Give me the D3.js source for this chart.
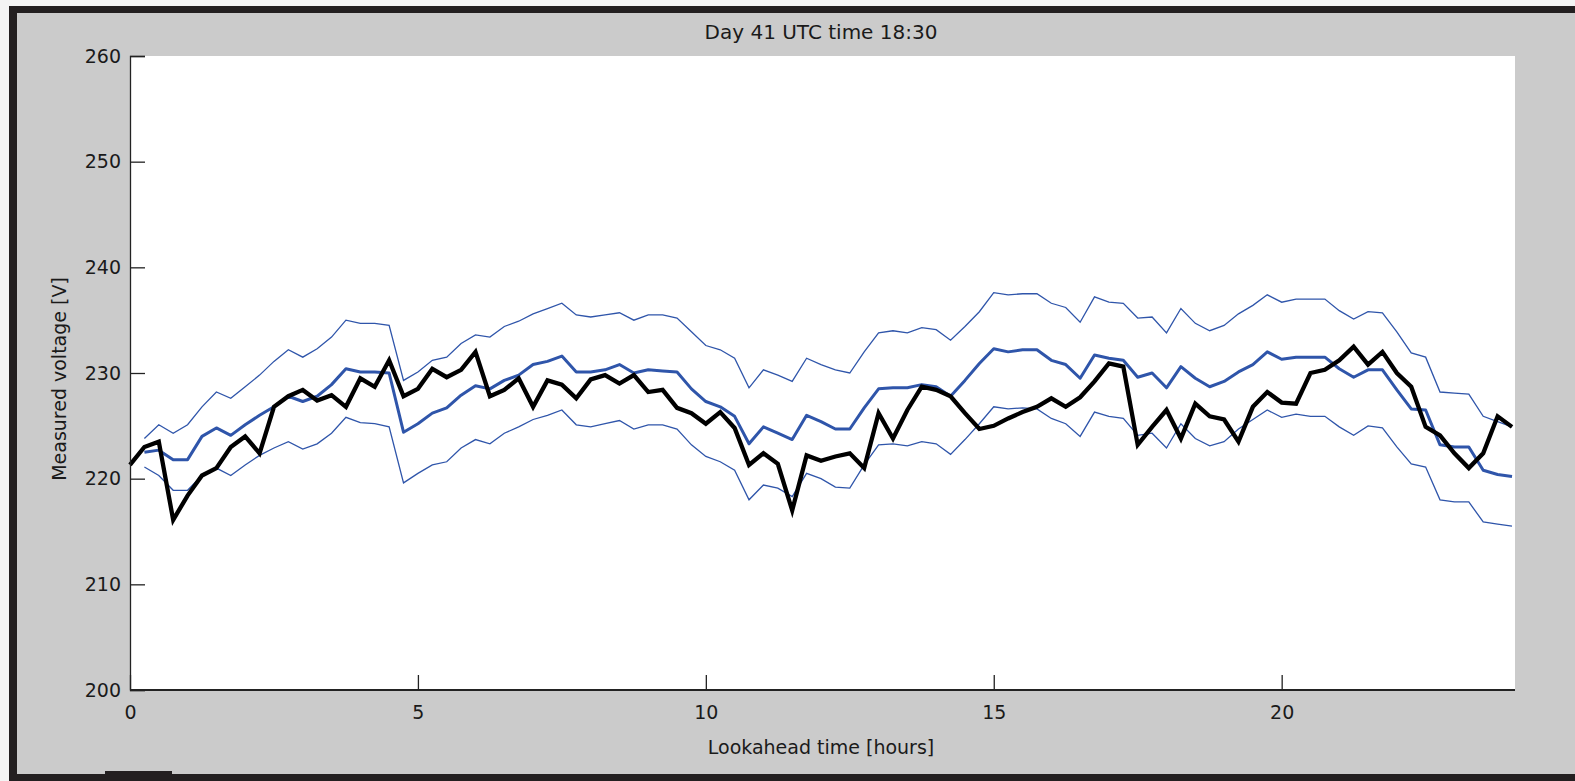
<!DOCTYPE html>
<html>
<head>
<meta charset="utf-8">
<script src="https://cdn.jsdelivr.net/npm/d3@7"></script>
<style>
  html, body { margin: 0; padding: 0; background: #f4f4f4; }
  svg { display: block; }
  text { font-family: "DejaVu Sans", sans-serif; fill: #1a1a1a; }
</style>
</head>
<body>
<svg id="chart" width="1575" height="781"></svg>
<script>
// Lookahead forecast of voltage, 15-minute steps over 24 hours
const stepHours = 0.25;

const measured = [
  221.3, 223.0, 223.5, 216.1, 218.4, 220.3, 221.0, 223.0, 224.0, 222.4,
  226.8, 227.8, 228.4, 227.4, 227.9, 226.8, 229.5, 228.7, 231.2, 227.8,
  228.5, 230.4, 229.6, 230.3, 232.0, 227.8, 228.4, 229.5, 226.8, 229.3,
  228.9, 227.6, 229.4, 229.8, 229.0, 229.8, 228.2, 228.4, 226.7, 226.2,
  225.2, 226.3, 224.8, 221.3, 222.4, 221.4, 217.0, 222.2, 221.7, 222.1,
  222.4, 221.0, 226.2, 223.8, 226.5, 228.7, 228.4, 227.8, 226.2, 224.7,
  225.0, 225.7, 226.3, 226.8, 227.6, 226.8, 227.7, 229.2, 230.9, 230.6,
  223.2, 224.9, 226.5, 223.8, 227.1, 225.9, 225.6, 223.5, 226.8, 228.2,
  227.2, 227.1, 230.0, 230.3, 231.2, 232.5, 230.8, 232.0, 230.0, 228.7,
  224.9, 224.1, 222.4, 221.0, 222.4, 225.9, 224.9
];

const forecastMean = [
  null,  222.5, 222.7, 221.8, 221.8, 224.0, 224.8, 224.1, 225.1, 226.0,
  226.8, 227.8, 227.3, 227.8, 228.9, 230.4, 230.1, 230.1, 230.0, 224.4,
  225.2, 226.2, 226.7, 227.9, 228.8, 228.5, 229.3, 229.8, 230.8, 231.1,
  231.6, 230.1, 230.1, 230.3, 230.8, 230.0, 230.3, 230.2, 230.1, 228.5,
  227.3, 226.8, 225.9, 223.3, 224.9, 224.3, 223.7, 226.0, 225.4, 224.7,
  224.7, 226.7, 228.5, 228.6, 228.6, 228.9, 228.7, 227.8, 229.3, 230.9,
  232.3, 232.0, 232.2, 232.2, 231.2, 230.8, 229.5, 231.7, 231.4, 231.2,
  229.6, 230.0, 228.6, 230.6, 229.5, 228.7, 229.2, 230.1, 230.8, 232.0,
  231.3, 231.5, 231.5, 231.5, 230.4, 229.6, 230.3, 230.3, 228.4, 226.6,
  226.5, 223.2, 223.0, 223.0, 220.8, 220.4, 220.2
];

const forecastUpper = [
  null,  223.8, 225.1, 224.3, 225.1, 226.8, 228.2, 227.6, 228.7, 229.8,
  231.1, 232.2, 231.5, 232.3, 233.4, 235.0, 234.7, 234.7, 234.5, 229.3,
  230.1, 231.2, 231.5, 232.8, 233.6, 233.4, 234.4, 234.9, 235.6, 236.1,
  236.6, 235.5, 235.3, 235.5, 235.7, 235.0, 235.5, 235.5, 235.2, 233.9,
  232.6, 232.2, 231.4, 228.6, 230.3, 229.8, 229.2, 231.4, 230.8, 230.3,
  230.0, 232.0, 233.8, 234.0, 233.8, 234.3, 234.1, 233.1, 234.4, 235.8,
  237.6, 237.4, 237.5, 237.5, 236.6, 236.2, 234.8, 237.2, 236.7, 236.6,
  235.2, 235.3, 233.8, 236.1, 234.7, 234.0, 234.5, 235.6, 236.4, 237.4,
  236.7, 237.0, 237.0, 237.0, 235.9, 235.1, 235.8, 235.7, 233.9, 231.9,
  231.5, 228.2, 228.1, 228.0, 225.9, 225.4, 224.9
];

const forecastLower = [
  null,  221.1, 220.3, 218.9, 218.9, 220.3, 221.0, 220.3, 221.3, 222.2,
  222.9, 223.5, 222.8, 223.3, 224.3, 225.8, 225.3, 225.2, 224.9, 219.6,
  220.5, 221.3, 221.6, 222.9, 223.7, 223.3, 224.3, 224.9, 225.6, 226.0,
  226.5, 225.1, 224.9, 225.2, 225.5, 224.7, 225.1, 225.1, 224.7, 223.2,
  222.1, 221.6, 220.8, 218.0, 219.4, 219.1, 218.3, 220.5, 220.0, 219.2,
  219.1, 221.3, 223.2, 223.3, 223.1, 223.5, 223.3, 222.3, 223.7, 225.2,
  226.8, 226.6, 226.7, 226.6, 225.7, 225.2, 224.0, 226.3, 225.9, 225.7,
  224.1, 224.3, 222.9, 225.2, 223.8, 223.1, 223.5, 224.7, 225.6, 226.5,
  225.8, 226.1, 225.9, 225.9, 224.9, 224.1, 225.0, 224.8, 223.0, 221.4,
  221.1, 218.0, 217.8, 217.8, 215.9, 215.7, 215.5
];

const xTicks = [0, 5, 10, 15, 20];
const yTicks = [200, 210, 220, 230, 240, 250, 260];

const titleText = "Day 41 UTC time 18:30";
const xLabel = "Lookahead time [hours]";
const yLabel = "Measured voltage [V]";

// ---- layout ----
const W = 1575, H = 781;
const plot = { left: 130, right: 1512, top: 56, bottom: 690, whiteRight: 1515 };
const blue = "#2f55aa";

const svg = d3.select("#chart");

// figure window: grey panel with dark frame on three sides
svg.append("rect").attr("x", 0).attr("y", 0).attr("width", W).attr("height", H).attr("fill", "#f4f4f4");
svg.append("rect").attr("x", 9).attr("y", 6).attr("width", W - 9).attr("height", H - 6).attr("fill", "#231f20");
svg.append("rect").attr("x", 17).attr("y", 13).attr("width", W - 17).attr("height", 761).attr("fill", "#cbcbcb");
svg.append("rect").attr("x", 105).attr("y", 771).attr("width", 67).attr("height", 3).attr("fill", "#231f20");

// axes background
svg.append("rect")
  .attr("x", plot.left).attr("y", plot.top)
  .attr("width", plot.whiteRight - plot.left).attr("height", plot.bottom - plot.top)
  .attr("fill", "#ffffff");

const x = d3.scaleLinear().domain([0, 24]).range([plot.left, plot.right]);
const y = d3.scaleLinear().domain([200, 260]).range([plot.bottom, plot.top]);

const line = d3.line()
  .defined(d => d.v != null)
  .x(d => x(d.h))
  .y(d => y(d.v));

const toPoints = arr => arr.map((v, i) => ({ h: i * stepHours, v }));

const g = svg.append("g");

g.append("path").datum(toPoints(forecastUpper))
  .attr("d", line).attr("fill", "none").attr("stroke", blue).attr("stroke-width", 1.3);
g.append("path").datum(toPoints(forecastLower))
  .attr("d", line).attr("fill", "none").attr("stroke", blue).attr("stroke-width", 1.3);
g.append("path").datum(toPoints(forecastMean))
  .attr("d", line).attr("fill", "none").attr("stroke", blue).attr("stroke-width", 3)
  .attr("stroke-linejoin", "round");
g.append("path").datum(toPoints(measured))
  .attr("d", line).attr("fill", "none").attr("stroke", "#000").attr("stroke-width", 4.3)
  .attr("stroke-linejoin", "miter");

// axes with inward ticks
const yAxis = d3.axisLeft(y).tickValues(yTicks).tickSize(-15).tickPadding(9).tickFormat(d3.format("d"));
const xAxis = d3.axisBottom(x).tickValues(xTicks).tickSize(-15).tickPadding(16).tickFormat(d3.format("d"));

const gy = svg.append("g").attr("transform", `translate(${plot.left},0)`).call(yAxis);
const gx = svg.append("g").attr("transform", `translate(0,${plot.bottom})`).call(xAxis);

[gy, gx].forEach(a => {
  a.select(".domain").attr("stroke", "#222").attr("stroke-width", 1.3);
  a.selectAll(".tick line").attr("stroke", "#222").attr("stroke-width", 1.3);
  a.selectAll(".tick text").attr("font-size", 19).attr("font-family", "DejaVu Sans, sans-serif").attr("fill", "#1a1a1a");
});
gx.select(".domain").attr("d", `M${plot.left},0H${plot.whiteRight}`).attr("stroke-width", 2);

// title and axis labels
svg.append("text")
  .attr("x", (plot.left + plot.right) / 2).attr("y", 39)
  .attr("text-anchor", "middle").attr("font-size", 20)
  .text(titleText);

svg.append("text")
  .attr("x", (plot.left + plot.right) / 2).attr("y", 754)
  .attr("text-anchor", "middle").attr("font-size", 19)
  .text(xLabel);

svg.append("text")
  .attr("transform", `translate(66,379) rotate(-90)`)
  .attr("text-anchor", "middle").attr("font-size", 19)
  .text(yLabel);
</script>
</body>
</html>
